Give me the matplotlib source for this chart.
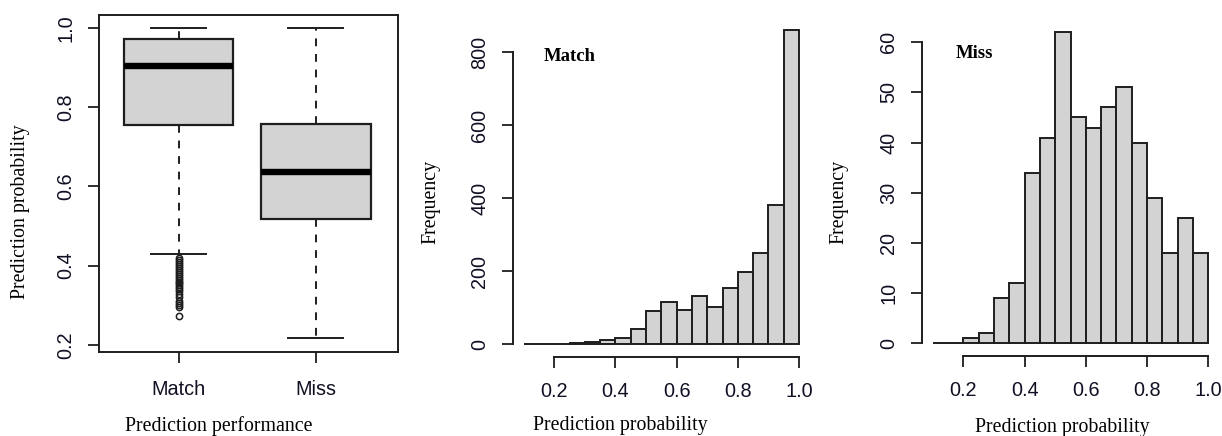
import numpy as np
import matplotlib
matplotlib.use("Agg")
import matplotlib.pyplot as plt

# boxplot: prediction probability by performance group
groups = ["Match", "Miss"]
q1 = [0.756, 0.517]
med = [0.904, 0.636]
q3 = [0.972, 0.759]
whislo = [0.429, 0.217]
whishi = [1.0, 1.0]
match_outliers = [0.272, 0.295, 0.300, 0.305, 0.312, 0.320, 0.328, 0.335, 0.340,
                  0.345, 0.350, 0.355, 0.360, 0.365, 0.370, 0.375, 0.380, 0.385,
                  0.390, 0.395, 0.400, 0.405, 0.410, 0.415, 0.420]
miss_outliers = []

# histograms, bins of 0.05 from 0.1 to 1.0
bin_edges = [0.10, 0.15, 0.20, 0.25, 0.30, 0.35, 0.40, 0.45, 0.50, 0.55,
             0.60, 0.65, 0.70, 0.75, 0.80, 0.85, 0.90, 0.95, 1.00]
match_counts = [0, 0, 0, 3, 7, 11, 16, 42, 90, 115, 93, 133, 102, 155, 197, 249, 382, 860]
miss_counts = [0, 0, 1, 2, 9, 12, 34, 41, 62, 45, 43, 47, 51, 40, 29, 18, 25, 18]

W, H = 1222, 436
fill = "#d3d3d3"
edge = "#1e1e1e"
tick_col = "#101024"
sans = "Liberation Sans"
serif = "Liberation Serif"
label_size = 14.3

fig = plt.figure(figsize=(W / 100, H / 100), dpi=100)


def px_axes(x0, y0, x1, y1):
    # пиксели (слева-сверху) -> доли фигуры
    return fig.add_axes([x0 / W, 1 - y1 / H, (x1 - x0) / W, (y1 - y0) / H])


def style_ticks(ax):
    ax.tick_params(axis="both", length=8, width=1.3, color=edge,
                   labelsize=14.3, labelcolor=tick_col, pad=6)
    ax.tick_params(axis="y", pad=9)
    for lab in ax.get_xticklabels() + ax.get_yticklabels():
        lab.set_fontfamily(sans)
    for lab in ax.get_yticklabels():
        lab.set_rotation(90)
        lab.set_va("center")


# ---- panel 1: boxplot ----
ax1 = px_axes(99, 15, 398, 352)
stats = []
fliers = [match_outliers, miss_outliers]
for i in range(len(groups)):
    stats.append(dict(label=groups[i], q1=q1[i], med=med[i], q3=q3[i],
                      whislo=whislo[i], whishi=whishi[i], fliers=fliers[i]))
ax1.bxp(stats, positions=[1, 2], widths=0.8, capwidths=0.4, patch_artist=True,
        boxprops=dict(facecolor=fill, edgecolor=edge, linewidth=1.6),
        whiskerprops=dict(color=edge, linewidth=1.4, linestyle=(0, (4, 4))),
        capprops=dict(color=edge, linewidth=1.4),
        medianprops=dict(color="black", linewidth=4.6, solid_capstyle="butt"),
        flierprops=dict(marker="o", markerfacecolor="none", markeredgecolor=edge,
                        markersize=4.5, markeredgewidth=1.1))
ax1.set_xlim(0.42, 2.6)
ax1.set_ylim(0.182, 1.033)
ax1.set_yticks([0.2, 0.4, 0.6, 0.8, 1.0])
ax1.set_yticklabels(["0.2", "0.4", "0.6", "0.8", "1.0"])
for s in ax1.spines.values():
    s.set_linewidth(1.4)
    s.set_color(edge)
style_ticks(ax1)
ax1.tick_params(axis="x", pad=12)
ax1.set_xlabel("Prediction performance", fontfamily=serif, fontsize=label_size)
ax1.xaxis.set_label_coords(0.401, -0.19)
ax1.set_ylabel("Prediction probability", fontfamily=serif, fontsize=label_size)
ax1.yaxis.set_label_coords(-0.231, 0.415)


# ---- panels 2 and 3: histograms ----
def hist_panel(ax, counts, yticks, ymax_axis, title, tx, ty, ylab_xy, xlab_xy):
    left = np.array(bin_edges[:-1])
    widths = np.diff(bin_edges)
    ax.bar(left, counts, width=widths, align="edge", color=fill,
           edgecolor=edge, linewidth=1.4)
    top = max(counts)
    ax.set_xlim(0.064, 1.036)
    ax.set_ylim(-0.04 * top, 1.04 * top)
    ax.set_xticks([0.2, 0.4, 0.6, 0.8, 1.0])
    ax.set_xticklabels(["0.2", "0.4", "0.6", "0.8", "1.0"])
    ax.set_yticks(yticks)
    ax.spines["top"].set_visible(False)
    ax.spines["right"].set_visible(False)
    ax.spines["left"].set_bounds(0, ymax_axis)
    ax.spines["bottom"].set_bounds(0.2, 1.0)
    for s in ("left", "bottom"):
        ax.spines[s].set_linewidth(1.4)
        ax.spines[s].set_color(edge)
    style_ticks(ax)
    ax.tick_params(axis="x", pad=10)
    ax.set_xlabel("Prediction probability", fontfamily=serif, fontsize=label_size)
    ax.xaxis.set_label_coords(*xlab_xy)
    ax.set_ylabel("Frequency", fontfamily=serif, fontsize=label_size)
    ax.yaxis.set_label_coords(*ylab_xy)
    ax.text(tx, ty, title, fontfamily=serif, fontweight="bold", fontsize=13.5,
            ha="left", va="center", color="black")


ax2 = px_axes(512.7, 17.7, 810, 356.7)
hist_panel(ax2, match_counts, [0, 200, 400, 600, 800], 800, "Match", 0.165, 787,
           (-0.244, 0.456), (0.361, -0.175))

ax3 = px_axes(921.7, 19.8, 1219.4, 355.6)
hist_panel(ax3, miss_counts, [0, 10, 20, 30, 40, 50, 60], 60, "Miss", 0.176, 57.7,
           (-0.247, 0.458), (0.471, -0.186))

fig.savefig("out.png", dpi=100)
plt.close(fig)
